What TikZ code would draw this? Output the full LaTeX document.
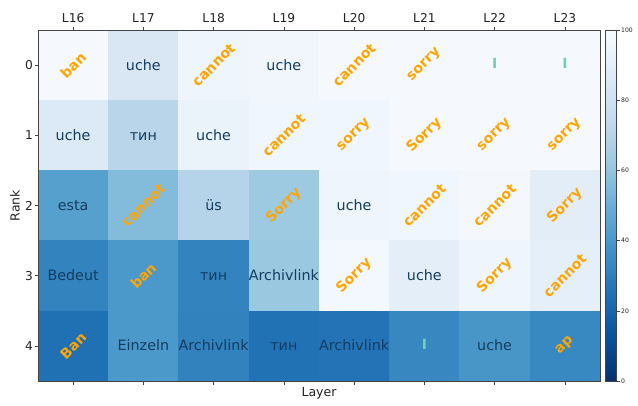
\documentclass[tikz,border=0pt]{standalone}
\usepackage{fontspec}
\setmainfont{DejaVu Sans}
\definecolor{celltxt}{HTML}{123D61}
\definecolor{tokorange}{HTML}{FFA500}
\definecolor{tokteal}{HTML}{6FD2AE}
\definecolor{axgray}{HTML}{444444}
\definecolor{labcol}{HTML}{222222}
\definecolor{b0}{HTML}{08306B}
\definecolor{b1}{HTML}{08519C}
\definecolor{b2}{HTML}{2171B5}
\definecolor{b3}{HTML}{4292C6}
\definecolor{b4}{HTML}{6BAED6}
\definecolor{b5}{HTML}{9ECAE1}
\definecolor{b6}{HTML}{C6DBEF}
\definecolor{b7}{HTML}{DEEBF7}
\definecolor{b8}{HTML}{F7FBFF}
\begin{document}
\begin{tikzpicture}[x=1pt,y=-1pt,
  celltext/.style={text=celltxt,font=\fontsize{14.3}{16}\selectfont,inner sep=0pt,text height=13pt,text depth=3.2pt},
  tokbox/.style={text=tokorange,font=\fontsize{14}{16}\selectfont\bfseries,rotate=45,inner sep=0pt},
  tealbox/.style={text=tokteal,font=\fontsize{14}{16}\selectfont\bfseries,inner sep=0pt},
  ticklab/.style={text=labcol,font=\fontsize{12.2}{14}\selectfont,inner sep=0pt},
  cblab/.style={text=labcol,font=\fontsize{6.1}{7}\selectfont,inner sep=0pt,anchor=west},
  axlab/.style={text=labcol,font=\fontsize{12.5}{14}\selectfont,inner sep=0pt},
  tickline/.style={draw=axgray,line width=0.6pt}]
\useasboundingbox (0,0) rectangle (638,405);
% heatmap cells
\foreach \c/\r/\col in {
 0/0/F5F9FE,1/0/D9E7F5,2/0/EEF5FC,3/0/F1F6FC,4/0/F5F9FE,5/0/F5F9FE,6/0/F5F9FE,7/0/F5F9FE,
 0/1/DCE9F6,1/1/B8D5EA,2/1/EAF2FA,3/1/F0F6FD,4/1/F0F6FD,5/1/F5F9FE,6/1/F5F9FE,7/1/F5F9FE,
 0/2/56A0CE,1/2/83BBDB,2/2/B6D4E9,3/2/9DC9E1,4/2/EEF5FC,5/2/F0F6FD,6/2/F4F8FD,7/2/E2EDF8,
 0/3/3383BE,1/3/4B98CA,2/3/3383BE,3/3/9AC8E0,4/3/F3F8FE,5/3/E3EEF8,6/3/EEF5FC,7/3/E4EFF9,
 0/4/2070B4,1/4/4B98CA,2/4/3282BE,3/4/2171B5,4/4/2373B6,5/4/3887C1,6/4/4896C8,7/4/3888C1}{
  \definecolor{cc}{HTML}{\col}
  \fill[cc] ({38+70.25*\c-0.2},{30+70.2*\r-0.2}) rectangle ({38+70.25*(\c+1)+0.2},{30+70.2*(\r+1)+0.2});
}
% plain tokens
\foreach \c/\r/\txt in {1/0/uche,3/0/uche,0/1/uche,1/1/тин,2/1/uche,0/2/esta,2/2/üs,4/2/uche,
 0/3/Bedeut,2/3/тин,3/3/Archivlink,5/3/uche,1/4/Einzeln,2/4/Archivlink,3/4/тин,4/4/Archivlink,6/4/uche}{
  \node[celltext] (n\c\r) at ({73.125+70.25*\c},{65.1+70.2*\r}) {\txt};
}
% orange tokens
\foreach \c/\r/\txt in {0/0/ban,2/0/cannot,4/0/cannot,5/0/sorry,3/1/cannot,4/1/sorry,5/1/Sorry,6/1/sorry,7/1/sorry,
 1/2/cannot,3/2/Sorry,5/2/cannot,6/2/cannot,7/2/Sorry,1/3/ban,4/3/Sorry,6/3/Sorry,7/3/cannot,0/4/Ban,7/4/ap}{
  \node[tokbox] (o\c\r) at ({73.125+70.25*\c},{65.1+70.2*\r}) {\txt};
}
% teal marks
\foreach \c/\r in {6/0,7/0,5/4}{
  \node[tealbox] (m\c\r) at ({73.125+70.25*\c},{63.8+70.2*\r}) {I};
}
% frame
\draw[axgray,line width=0.8pt] (38,30) rectangle (600,381.2);
% top / bottom ticks and labels
\foreach \c/\lab in {0/L16,1/L17,2/L18,3/L19,4/L20,5/L21,6/L22,7/L23}{
  \coordinate (xt\c) at ({73.125+70.25*\c},30);
  \coordinate (xb\c) at ({73.125+70.25*\c},381.2);
  \draw[tickline] (xt\c) -- ++(0,-3.5);
  \draw[tickline] (xb\c) -- ++(0,3.5);
  \node[ticklab] (xl\c) at ({73.125+70.25*\c},17.8) {\lab};
}
% left ticks and labels
\foreach \r in {0,...,4}{
  \coordinate (yt\r) at (38,{65.1+70.2*\r});
  \draw[tickline] (yt\r) -- ++(-3.5,0);
  \node[ticklab,anchor=east] (yl\r) at (33,{65.1+70.2*\r}) {\r};
}
\node[axlab,rotate=90] (rank) at (15,205.5) {Rank};
\node[axlab] (layer) at (319,393) {Layer};
% colorbar
\foreach \i/\ca/\cb in {0/b0/b1,1/b1/b2,2/b2/b3,3/b3/b4,4/b4/b5,5/b5/b6,6/b6/b7,7/b7/b8}{
  \shade[bottom color=\ca,top color=\cb,shading angle=0]
    (605.7,{381.2-43.9*(\i+1)-0.2}) rectangle (616.7,{381.2-43.9*\i+0.2});
}
\draw[axgray,line width=0.8pt] (605.7,30) rectangle (616.7,381.2);
\foreach \v in {0,20,40,60,80,100}{
  \coordinate (ct\v) at (616.7,{381.2-3.512*\v});
  \draw[tickline,line width=0.5pt] (ct\v) -- ++(2.8,0);
  \node[cblab] (cl\v) at (621,{381.2-3.512*\v}) {\v};
}
\end{tikzpicture}
\end{document}
